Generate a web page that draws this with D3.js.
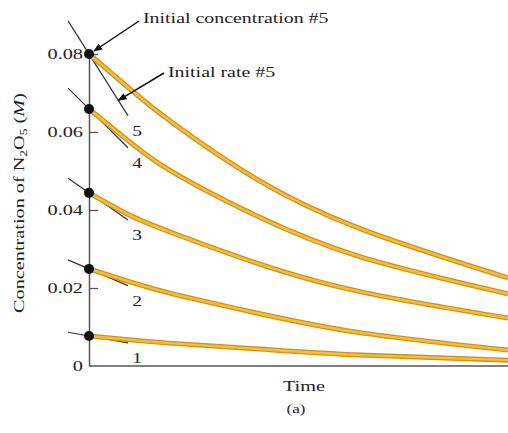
<!DOCTYPE html>
<html>
<head>
<meta charset="utf-8">
<script src="https://cdn.jsdelivr.net/npm/d3@7"></script>
<style>
  body { margin: 0; background: #fff; }
  text { font-family: "Liberation Serif", "Times New Roman", serif; fill: #222; }
</style>
</head>
<body>
<div id="viz"></div>
<script>
// time in arbitrary units, concentration in M
const times = [0, 1, 2, 4, 6.5, 10];
const run1 = [0.0077, 0.0067, 0.0058, 0.0044, 0.0028, 0.0015];
const run2 = [0.0249, 0.0215, 0.0185, 0.0136, 0.0085, 0.0041];
const run3 = [0.0444, 0.0385, 0.0341, 0.0264, 0.0190, 0.0123];
const run4 = [0.0659, 0.0572, 0.0497, 0.0385, 0.0279, 0.0185];
const run5 = [0.0800, 0.0708, 0.0623, 0.0479, 0.0351, 0.0226];
const runs = [run1, run2, run3, run4, run5];
const runLabels = ["1", "2", "3", "4", "5"];
// initial rates (slope of the tangent lines, M per time unit)
const initialRates = [0.0019, 0.0046, 0.0075, 0.0107, 0.0170];
const tangentFrom = -0.5, tangentTo = 0.93;
const yTicks = [0, 0.02, 0.04, 0.06, 0.08];

const W = 508, H = 433;
const margin = {top: 54, right: 0, bottom: 67, left: 89};

const svg = d3.select("#viz").append("svg")
  .attr("width", W)
  .attr("height", H);

const defs = svg.append("defs");
defs.append("marker")
  .attr("id", "arrow")
  .attr("viewBox", "0 0 10 10")
  .attr("refX", 9).attr("refY", 5)
  .attr("markerWidth", 9).attr("markerHeight", 9)
  .attr("markerUnits", "userSpaceOnUse")
  .attr("orient", "auto")
  .append("path")
  .attr("d", "M0,1 L10,5 L0,9 Z")
  .attr("fill", "#111");

const x = d3.scaleLinear().domain([0, 10]).range([margin.left, W - margin.right]);
const y = d3.scaleLinear().domain([0, 0.08]).range([H - margin.bottom, margin.top]);

// stretch text horizontally to match the wide typeface of the original
function widen(sel, factor) {
  sel.each(function() {
    const w = this.getComputedTextLength();
    d3.select(this).attr("textLength", w * factor).attr("lengthAdjust", "spacingAndGlyphs");
  });
}

// axes
const yAxis = svg.append("g")
  .attr("transform", `translate(${x(0)},0)`)
  .call(d3.axisLeft(y)
    .tickValues(yTicks)
    .tickFormat(d => d === 0 ? "0" : d3.format(".2f")(d))
    .tickSizeInner(-9)
    .tickSizeOuter(0)
    .tickPadding(6));
yAxis.select(".domain").attr("stroke", "#555").attr("stroke-width", 1.5);
yAxis.selectAll(".tick line").attr("stroke", "#555").attr("stroke-width", 1.3)
  .filter(d => d === 0).remove();
yAxis.selectAll(".tick text")
  .style("font-family", "Liberation Serif")
  .style("font-size", "14px")
  .attr("fill", "#333")
  .call(widen, 1.45);

svg.append("line")
  .attr("x1", x(0)).attr("x2", W)
  .attr("y1", y(0)).attr("y2", y(0))
  .attr("stroke", "#555")
  .attr("stroke-width", 1.5);

// tangent lines (initial rates)
svg.append("g").selectAll("line")
  .data(runs)
  .join("line")
  .attr("x1", x(tangentFrom))
  .attr("y1", (d, i) => y(d[0] - initialRates[i] * tangentFrom))
  .attr("x2", x(tangentTo))
  .attr("y2", (d, i) => y(d[0] - initialRates[i] * tangentTo))
  .attr("stroke", "#333")
  .attr("stroke-width", 1.2);

// decay curves
const line = d3.line()
  .x((d, i) => x(times[i]))
  .y(d => y(d))
  .curve(d3.curveNatural);

const curves = svg.append("g");
curves.selectAll(".outer")
  .data(runs)
  .join("path")
  .attr("class", "outer")
  .attr("d", line)
  .attr("fill", "none")
  .attr("stroke", "#d38f16")
  .attr("stroke-width", 5);
curves.selectAll(".inner")
  .data(runs)
  .join("path")
  .attr("class", "inner")
  .attr("d", line)
  .attr("fill", "none")
  .attr("stroke", "#f2c040")
  .attr("stroke-width", 2.4);

// initial concentration dots
svg.append("g").selectAll("circle")
  .data(runs)
  .join("circle")
  .attr("cx", x(0))
  .attr("cy", d => y(d[0]))
  .attr("r", 5)
  .attr("fill", "#111");

// run numbers
svg.append("g").selectAll("text")
  .data(runs)
  .join("text")
  .attr("x", x(1.15))
  .attr("y", (d, i) => y(d[0] - initialRates[i] * tangentTo) + 15)
  .attr("text-anchor", "middle")
  .attr("dy", "0.35em")
  .style("font-size", "15px")
  .text((d, i) => runLabels[i])
  .call(widen, 1.3);

// annotations
svg.append("line")
  .attr("x1", 139).attr("y1", 21)
  .attr("x2", x(0) + 5).attr("y2", y(run5[0]) - 3)
  .attr("stroke", "#111").attr("stroke-width", 1.5)
  .attr("marker-end", "url(#arrow)");
svg.append("text")
  .attr("x", 143).attr("y", 23)
  .style("font-size", "14px")
  .text("Initial concentration #5")
  .call(widen, 1.42);

const tip = 0.7;
svg.append("line")
  .attr("x1", 164).attr("y1", 73)
  .attr("x2", x(tip)).attr("y2", y(run5[0] - initialRates[4] * tip))
  .attr("stroke", "#111").attr("stroke-width", 1.5)
  .attr("marker-end", "url(#arrow)");
svg.append("text")
  .attr("x", 168).attr("y", 77)
  .style("font-size", "14px")
  .text("Initial rate #5")
  .call(widen, 1.42);

// axis titles
const yLabel = svg.append("text")
  .attr("transform", `translate(24,203) rotate(-90)`)
  .attr("text-anchor", "middle")
  .style("font-size", "15px");
yLabel.append("tspan").text("Concentration of N");
yLabel.append("tspan").attr("font-size", "10px").attr("dy", 3).text("2");
yLabel.append("tspan").attr("dy", -3).text("O");
yLabel.append("tspan").attr("font-size", "10px").attr("dy", 3).text("5");
yLabel.append("tspan").attr("dy", -3).text(" (");
yLabel.append("tspan").attr("font-style", "italic").text("M");
yLabel.append("tspan").text(")");
yLabel.call(widen, 1.35);

svg.append("text")
  .attr("x", 304).attr("y", 391)
  .attr("text-anchor", "middle")
  .style("font-size", "14px")
  .text("Time")
  .call(widen, 1.45);

svg.append("text")
  .attr("x", 296).attr("y", 413)
  .attr("text-anchor", "middle")
  .style("font-size", "13px")
  .text("(a)")
  .call(widen, 1.3);
</script>
</body>
</html>
